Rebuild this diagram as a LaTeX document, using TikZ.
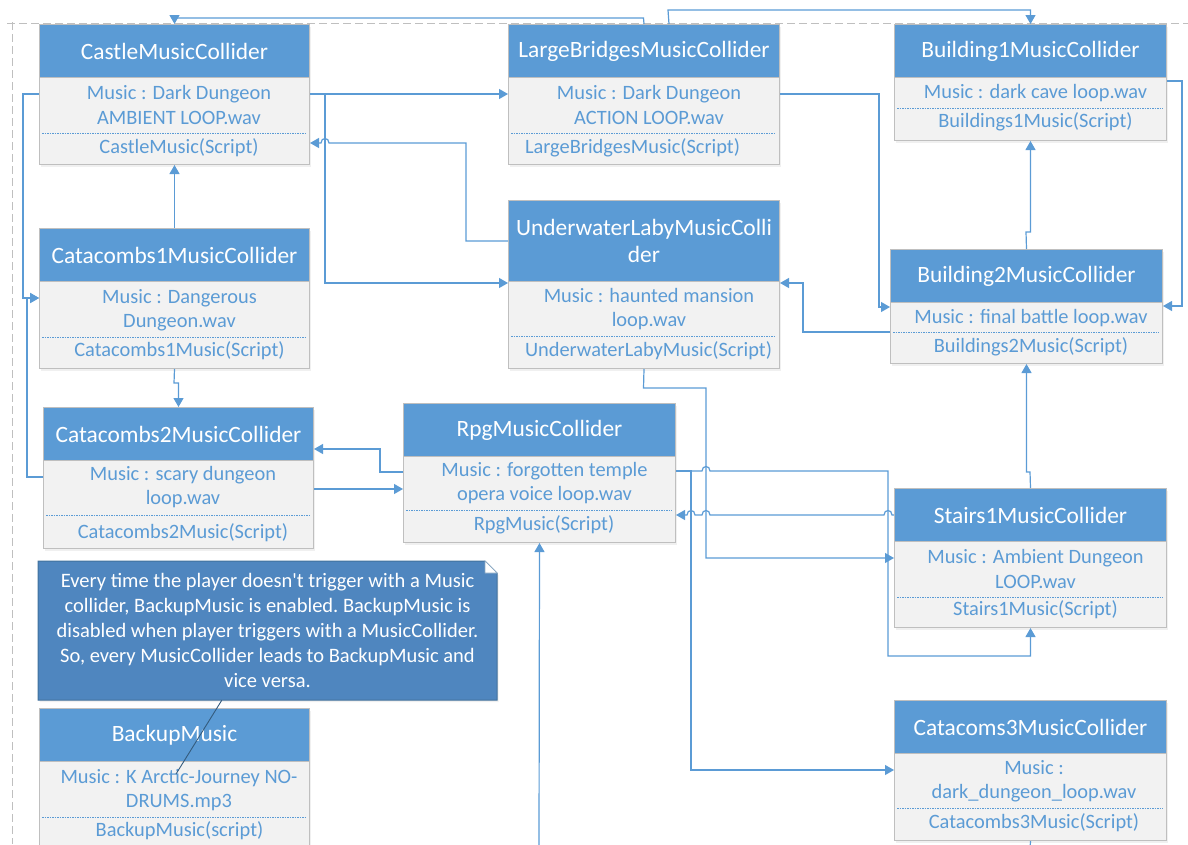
\documentclass[tikz,border=0pt]{standalone}
\usepackage{fontspec}
\setmainfont{Carlito}
\newfontfamily\plainfam{Carlito}
\usetikzlibrary{arrows.meta,shadows,backgrounds,calc}
\definecolor{hdrblue}{HTML}{5B9BD5}
\definecolor{txtblue}{HTML}{5B9BD5}
\definecolor{bodygray}{HTML}{F2F2F2}
\definecolor{bordergray}{HTML}{BFBFBF}
\definecolor{lineblue}{HTML}{5B9BD5}
\definecolor{noteblue}{HTML}{4F86BF}
\definecolor{noteedge}{HTML}{41719C}
\newcommand\hdrfont{\fontsize{23.4}{27}\selectfont}
\newcommand\bodyfont{\fontsize{20.4}{24.5}\selectfont}
\newcommand\notefont{\plainfam\fontsize{20.5}{25.2}\selectfont\frenchspacing}
\begin{document}
\begin{tikzpicture}[x=1pt,y=-1pt,
  cls/.style={draw=bordergray, fill=bodygray, line width=1pt, anchor=north west, inner sep=0pt,
              drop shadow={opacity=0.12, shadow xshift=1.5pt, shadow yshift=-2pt}},
  hdr/.style={draw=bordergray, fill=hdrblue, line width=1pt, text=white, font=\hdrfont,
              anchor=north west, inner sep=0pt, align=center},
  btxt/.style={text=txtblue, font=\bodyfont, align=center, inner sep=0pt},
  sep/.style={draw=txtblue, dash pattern=on 1.5pt off 1pt, line width=0.8pt},
  conn/.style={draw=lineblue, line width=1.2pt},
  arr/.style={conn, -{Triangle[length=9pt,width=10pt]}},
  pageb/.style={draw=bordergray, line width=1pt, dash pattern=on 8pt off 4pt},
]
\useasboundingbox (0,0) rectangle (1188,844);

% page border
\draw[pageb] (12,22) -- (12,844);
\draw[pageb] (7,23) -- (1188,23);

% ---------- Castle
\node[cls, minimum width=270pt, minimum height=140pt] (castle) at (39,24) {};
\node[hdr, minimum width=270pt, minimum height=53pt] (castle-h) at (39,24) {CastleMusicCollider};
\node[btxt] (castle-m) at (179,105) {Music : Dark Dungeon\\AMBIENT LOOP.wav};
\draw[sep] (42,133) -- (306,133);
\node[btxt] (castle-s) at (179,148) {CastleMusic(Script)};

% ---------- LargeBridges
\node[cls, minimum width=271pt, minimum height=140pt] (lb) at (508,24) {};
\node[hdr, minimum width=271pt, minimum height=53pt] (lb-h) at (508,24) {LargeBridgesMusicCollider};
\node[btxt] (lb-m) at (649,105) {Music : Dark Dungeon\\ACTION LOOP.wav};
\draw[sep] (511,133) -- (776,133);
\node[btxt] (lb-s) at (632.5,148) {LargeBridgesMusic(Script)};

% ---------- Building1
\node[cls, minimum width=272pt, minimum height=116pt] (b1) at (894,24) {};
\node[hdr, minimum width=272pt, minimum height=53pt] (b1-h) at (894,24) {Building1MusicCollider};
\node[btxt] (b1-m) at (1035.5,93) {Music : dark cave loop.wav};
\draw[sep] (897,108) -- (1163,108);
\node[btxt] (b1-s) at (1035.5,122) {Buildings1Music(Script)};

% ---------- Catacombs1
\node[cls, minimum width=270pt, minimum height=140pt] (cat1) at (39,228) {};
\node[hdr, minimum width=270pt, minimum height=53pt] (cat1-h) at (39,228) {Catacombs1MusicCollider};
\node[btxt] (cat1-m) at (179.5,310) {Music : Dangerous\\Dungeon.wav};
\draw[sep] (42,337) -- (306,337);
\node[btxt] (cat1-s) at (179.5,351) {Catacombs1Music(Script)};

% ---------- Underwater
\node[cls, minimum width=271pt, minimum height=168pt] (uw) at (508,200) {};
\node[hdr, minimum width=271pt, minimum height=81pt] (uw-h) at (508,200) {UnderwaterLabyMusicColli\\der};
\node[btxt] (uw-m) at (649,309) {Music : haunted mansion\\loop.wav};
\draw[sep] (511,336) -- (776,336);
\node[btxt] (uw-s) at (648.5,351) {UnderwaterLabyMusic(Script)};

% ---------- Building2
\node[cls, minimum width=272pt, minimum height=114pt] (b2) at (890,249) {};
\node[hdr, minimum width=272pt, minimum height=53pt] (b2-h) at (890,249) {Building2MusicCollider};
\node[btxt] (b2-m) at (1031,318) {Music : final battle loop.wav};
\draw[sep] (893,332) -- (1159,332);
\node[btxt] (b2-s) at (1031,347) {Buildings2Music(Script)};

% ---------- Catacombs2
\node[cls, minimum width=270pt, minimum height=141pt] (cat2) at (43,407) {};
\node[hdr, minimum width=270pt, minimum height=53pt] (cat2-h) at (43,407) {Catacombs2MusicCollider};
\node[btxt] (cat2-m) at (183,487) {Music : scary dungeon\\loop.wav};
\draw[sep] (46,515) -- (310,515);
\node[btxt] (cat2-s) at (183,533) {Catacombs2Music(Script)};

% ---------- Rpg
\node[cls, minimum width=272pt, minimum height=139pt] (rpg) at (403,403) {};
\node[hdr, minimum width=272pt, minimum height=53pt] (rpg-h) at (403,403) {RpgMusicCollider};
\node[btxt] (rpg-m) at (544.5,483) {Music : forgotten temple\\opera voice loop.wav};
\draw[sep] (406,510) -- (672,510);
\node[btxt] (rpg-s) at (544,525) {RpgMusic(Script)};

% ---------- Stairs1
\node[cls, minimum width=272pt, minimum height=139pt] (st) at (894,488) {};
\node[hdr, minimum width=272pt, minimum height=53pt] (st-h) at (894,488) {Stairs1MusicCollider};
\node[btxt] (st-m) at (1035.5,569) {Music : Ambient Dungeon\\LOOP.wav};
\draw[sep] (897,597) -- (1163,597);
\node[btxt] (st-s) at (1035.5,610) {Stairs1Music(Script)};

% ---------- Catacoms3
\node[cls, minimum width=272pt, minimum height=140pt] (c3) at (894,700) {};
\node[hdr, minimum width=272pt, minimum height=53pt] (c3-h) at (894,700) {Catacoms3MusicCollider};
\node[btxt] (c3-m) at (1034,781) {Music :\\dark\_dungeon\_loop.wav};
\draw[sep] (897,808) -- (1163,808);
\node[btxt] (c3-s) at (1034,823) {Catacombs3Music(Script)};

% ---------- BackupMusic
\node[cls, minimum width=270pt, minimum height=160pt] (bk) at (39,708) {};
\node[hdr, minimum width=270pt, minimum height=53pt] (bk-h) at (39,708) {BackupMusic};
\node[btxt] (bk-m) at (179,790) {Music : K Arctic-Journey NO-\\DRUMS.mp3};
\draw[sep] (42,817) -- (306,817);
\node[btxt] (bk-s) at (179.5,831) {BackupMusic(script)};

% ---------- Note
\fill[noteblue, draw=noteedge, line width=1pt,
      drop shadow={opacity=0.12, shadow xshift=1.5pt, shadow yshift=-2pt}]
  (38,561) -- (485,561) -- (497,573) -- (497,700) -- (38,700) -- cycle;
\fill[white, draw=noteedge!60, line width=0.6pt]
  (485,561) -- (485,573) -- (497,573) -- cycle;
\node[text=white, font=\notefont, align=center, inner sep=0pt,
      minimum width=459pt, minimum height=139pt] (note) at (267.5,630.5)
  {Every time the player doesn't trigger with a Music\\
   collider, BackupMusic is enabled. BackupMusic is\\
   disabled when player triggers with a MusicCollider.\\
   So, every MusicCollider leads to BackupMusic and\\
   vice versa.};
\coordinate (tie) at (176,774);
\draw[noteedge!80!black, line width=0.9pt] ([xshift=184pt]note.south west) -- (tie);

% ---------- connectors
% LargeBridges -> Castle (top)
\draw[arr] (lb.north) -- (643.5,18) -| (castle.north);
% LargeBridges -> Building1 (top)
\draw[arr] ($(lb.north)+(25,0)$) -- (668,10) -| (b1.north);
% Castle -> LargeBridges
\draw[arr] (castle.east |- 0,94) -- (lb.west |- 0,94);
% Castle -> Underwater
\draw[arr] (castle.east |- 0,94) -- (325,94) |- (uw.west |- 0,283);
% Castle -> Catacombs1
\draw[arr] (castle.west |- 0,94) -- (23,94) |- (cat1.west |- 0,298);
% Catacombs2 -> Catacombs1
\draw[arr] (cat2.west |- 0,477) -- (27,477) |- (cat1.west |- 0,298);
% Catacombs1 -> Castle
\draw[arr] (cat1.north) -- (castle.south);
% Catacombs1 -> Catacombs2
\draw[arr] (cat1.south) -- (174,383) -| (cat2.north);
% Underwater -> Castle (hop at 325)
\draw[arr] (uw.west |- 0,241) -- (466,241) -- (466,143) -- (329,143)
  .. controls (329,137) and (321,137) .. (321,143) -- (castle.east |- 0,143);
% LargeBridges -> Building2
\draw[arr] (lb.east |- 0,94) -- (879,94) |- (b2.west |- 0,307);
% Building1 -> Building2
\draw[arr] (b1.east |- 0,81) -- (1182,81) |- (b2.east |- 0,306);
% Building2 -> Building1
\draw[arr] (b2.north) -- (1026,232) -| (b1.south);
% Building2 -> Underwater
\draw[arr] (b2.west |- 0,332) -- (803,332) |- (uw.east |- 0,283);
% Underwater -> Stairs1
\draw[arr] (uw.south) -- (643.5,388) -| (706,558) -- (st.west |- 0,558);
% Rpg -> Stairs1 (bottom), hop at 706
\draw[arr] (rpg.east |- 0,471) -- (702,471) .. controls (702,465) and (710,465) .. (710,471)
  -- (888,471) -- (888,656) -| (st.south);
% Rpg -> Catacoms3
\draw[arr] (rpg.east |- 0,471) -- (691,471) |- (c3.west |- 0,770);
% Stairs1 -> Rpg, hops at 888, 706, 691
\draw[arr] (st.west |- 0,515) -- (892,515) .. controls (892,509) and (884,509) .. (884,515)
  -- (710,515) .. controls (710,509) and (702,509) .. (702,515)
  -- (695,515) .. controls (695,509) and (687,509) .. (687,515)
  -- (rpg.east |- 0,515);
% Stairs1 -> Building2
\draw[arr] (st.north) -- (1030,472) -| (b2.south);
% Rpg -> Catacombs2
\draw[arr] (rpg.west |- 0,472) -- (380,472) |- (cat2.east |- 0,449);
% Catacombs2 -> Rpg
\draw[arr] (cat2.east |- 0,489) -- (rpg.west |- 0,489);
% from below -> Rpg
\coordinate (rpgin) at (539,850);
\draw[arr] (rpgin) -- (rpg.south);
% Catacoms3 -> below
\coordinate (c3out) at (1030,850);
\draw[conn] (c3.south) -- (c3out);
\end{tikzpicture}
\end{document}
